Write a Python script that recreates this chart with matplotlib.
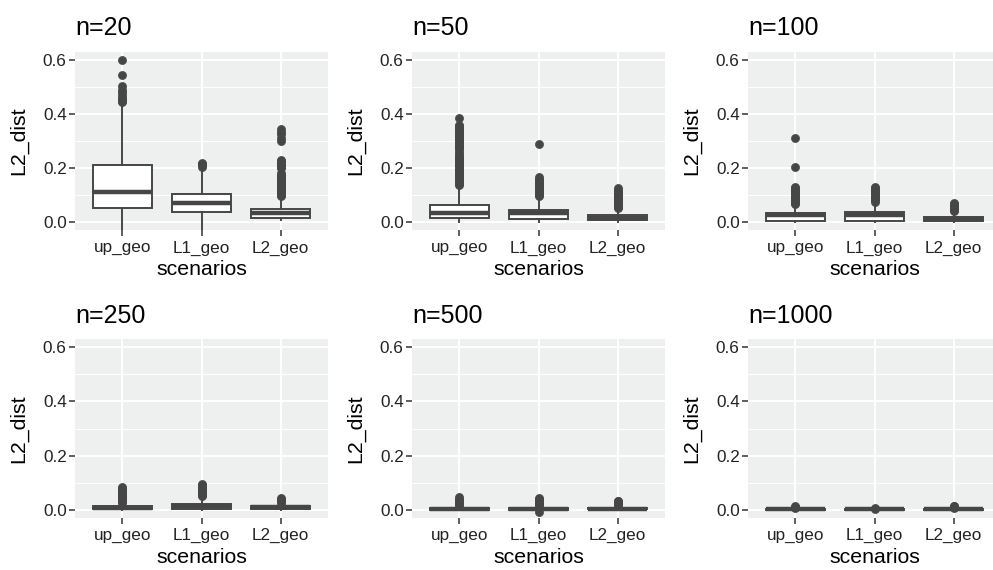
import matplotlib
matplotlib.use("Agg")
import matplotlib.pyplot as plt

plt.rcParams['font.family'] = ['Liberation Sans', 'DejaVu Sans']

categories = ["up_geo", "L1_geo", "L2_geo"]
panel_titles = ["n=20", "n=50", "n=100", "n=250", "n=500", "n=1000"]
y_ticks = [0.0, 0.2, 0.4, 0.6]
y_tick_labels = ["0.0", "0.2", "0.4", "0.6"]
y_minor = [0.1, 0.3, 0.5]

# box statistics per panel: [whislo, q1, med, q3, whishi] for up_geo, L1_geo, L2_geo
n20_stats = [[-0.04, 0.052, 0.112, 0.211, 0.44],
             [-0.04, 0.037, 0.069, 0.104, 0.200],
             [0.008, 0.015, 0.032, 0.047, 0.093]]
n20_out = [[0.445, 0.45, 0.455, 0.46, 0.47, 0.48, 0.49, 0.505, 0.545, 0.60],
           [0.205, 0.21, 0.215, 0.22],
           [0.095, 0.10, 0.105, 0.11, 0.115, 0.12, 0.125, 0.13, 0.135, 0.14, 0.145,
            0.15, 0.155, 0.16, 0.165, 0.17, 0.175, 0.18, 0.20, 0.205, 0.21, 0.215,
            0.22, 0.225, 0.23, 0.30, 0.31, 0.325, 0.335, 0.345]]

n50_stats = [[0.0, 0.015, 0.032, 0.063, 0.13],
             [0.0, 0.012, 0.032, 0.045, 0.09],
             [0.0, 0.008, 0.016, 0.025, 0.045]]
n50_out = [[0.135, 0.14, 0.145, 0.15, 0.155, 0.16, 0.165, 0.17, 0.175, 0.18, 0.185,
            0.19, 0.195, 0.20, 0.205, 0.21, 0.215, 0.22, 0.225, 0.23, 0.235, 0.24,
            0.245, 0.25, 0.26, 0.27, 0.275, 0.28, 0.285, 0.29, 0.295, 0.30, 0.305,
            0.31, 0.315, 0.32, 0.325, 0.33, 0.335, 0.34, 0.345, 0.35, 0.355, 0.36,
            0.385],
           [0.095, 0.10, 0.105, 0.11, 0.115, 0.12, 0.125, 0.13, 0.135, 0.14, 0.145,
            0.15, 0.155, 0.16, 0.165, 0.288],
           [0.05, 0.055, 0.06, 0.065, 0.07, 0.075, 0.08, 0.085, 0.09, 0.095, 0.10,
            0.105, 0.11, 0.115, 0.12, 0.125]]

n100_stats = [[0.0, 0.005, 0.024, 0.034, 0.06],
              [0.0, 0.005, 0.027, 0.036, 0.07],
              [0.0, 0.002, 0.011, 0.018, 0.035]]
n100_out = [[0.065, 0.07, 0.075, 0.08, 0.085, 0.09, 0.095, 0.10, 0.105, 0.11, 0.115,
             0.12, 0.125, 0.13, 0.205, 0.31],
            [0.075, 0.08, 0.085, 0.09, 0.095, 0.10, 0.105, 0.11, 0.115, 0.12, 0.125,
             0.13],
            [0.04, 0.045, 0.05, 0.055, 0.06, 0.065, 0.07]]

n250_stats = [[0.0, 0.003, 0.007, 0.012, 0.02],
              [0.0, 0.001, 0.013, 0.021, 0.045],
              [0.0, 0.003, 0.008, 0.013, 0.022]]
n250_out = [[0.025, 0.03, 0.035, 0.04, 0.045, 0.05, 0.055, 0.06, 0.065, 0.07, 0.075,
             0.08, 0.085],
            [0.05, 0.055, 0.06, 0.065, 0.07, 0.075, 0.08, 0.085, 0.09, 0.095],
            [0.025, 0.03, 0.035, 0.04, 0.042]]

n500_stats = [[0.0, 0.0, 0.003, 0.006, 0.012],
              [-0.005, -0.002, 0.002, 0.005, 0.01],
              [0.0, 0.001, 0.004, 0.007, 0.012]]
n500_out = [[0.015, 0.02, 0.025, 0.03, 0.035, 0.04, 0.045],
            [0.013, 0.018, 0.023, 0.028, 0.033, 0.038, 0.043, -0.008],
            [0.015, 0.02, 0.025, 0.03, 0.033]]

n1000_stats = [[0.0, 0.0, 0.0015, 0.003, 0.005],
               [0.0, 0.0, 0.001, 0.002, 0.003],
               [0.0, 0.0, 0.0015, 0.003, 0.005]]
n1000_out = [[0.006, 0.008, 0.01, 0.012],
             [0.004, 0.005],
             [0.006, 0.008, 0.01, 0.012, 0.014]]

all_stats = [n20_stats, n50_stats, n100_stats, n250_stats, n500_stats, n1000_stats]
all_out = [n20_out, n50_out, n100_out, n250_out, n500_out, n1000_out]

W, H = 993, 570
fig = plt.figure(figsize=(W / 100, H / 100), dpi=100)

col_px = [(75, 328), (412, 665), (748, 1001)]
row_px = [(52, 230), (339.3, 517.7)]

dark = '#464646'
bg = '#EEEFEF'

for idx in range(6):
    r, c = divmod(idx, 3)
    x0, x1 = col_px[c]
    y0, y1 = row_px[r]
    ax = fig.add_axes([x0 / W, 1 - y1 / H, (x1 - x0) / W, (y1 - y0) / H])
    ax.set_facecolor(bg)
    for s in ax.spines.values():
        s.set_visible(False)

    stats = []
    for k, cat in enumerate(categories):
        wl, q1, med, q3, wh = all_stats[idx][k]
        stats.append(dict(label=cat, whislo=wl, q1=q1, med=med, q3=q3,
                          whishi=wh, fliers=all_out[idx][k]))
    ax.bxp(stats, positions=[1, 2, 3], widths=0.75, showcaps=False,
           patch_artist=True,
           boxprops=dict(facecolor='white', edgecolor=dark, linewidth=1.4),
           medianprops=dict(color=dark, linewidth=3.2, solid_capstyle='butt'),
           whiskerprops=dict(color=dark, linewidth=1.4),
           flierprops=dict(marker='o', markerfacecolor=dark, markeredgecolor=dark,
                           markersize=5.8, markeredgewidth=0.5, linestyle='none'),
           zorder=3)

    ax.set_xlim(0.4, 3.6)
    ax.set_ylim(-0.03, 0.63)
    ax.set_yticks(y_ticks)
    ax.set_yticklabels(y_tick_labels)
    ax.set_yticks(y_minor, minor=True)
    ax.set_xticks([1, 2, 3])
    ax.set_xticklabels(categories)
    ax.grid(which='major', color='white', linewidth=1.4, zorder=0)
    ax.grid(which='minor', axis='y', color='white', linewidth=0.7, zorder=0)
    ax.set_axisbelow(True)
    ax.tick_params(axis='both', which='major', length=4, width=1.1, color='#333333',
                   labelsize=12.3, labelcolor='#222222')
    ax.tick_params(axis='y', which='minor', length=0)
    ax.tick_params(axis='x', pad=3.5)
    ax.tick_params(axis='y', pad=2)

    ax.set_xlabel("scenarios", fontsize=15.3)
    ax.set_ylabel("L2_dist", fontsize=15.3)
    ax.xaxis.label.set_va('center')
    ax.yaxis.label.set_va('center')
    ax.xaxis.set_label_coords(0.5, -40 / (y1 - y0))
    ax.yaxis.set_label_coords(-56 / (x1 - x0), 0.5)
    ax.set_title(panel_titles[idx], loc='left', fontsize=18, pad=12)

fig.savefig("out.png", dpi=100)
